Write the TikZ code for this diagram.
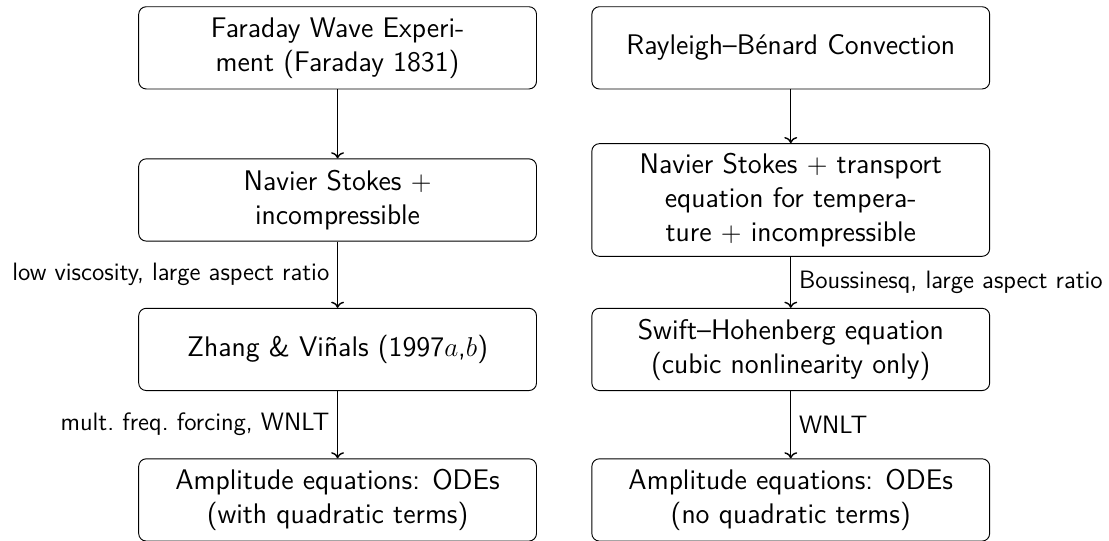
\documentclass[tikz,border=0pt]{standalone}
\usepackage{amsmath,amssymb}
\usepackage{tikz}
\usetikzlibrary{arrows.meta,positioning,calc}
\renewcommand{\familydefault}{\sfdefault}
\newcommand{\Pl}{\ensuremath{+}}

\begin{document}
\begin{tikzpicture}[
    modelbox/.style={draw, rounded corners=4pt, align=center, font=\fontsize{15}{18}\selectfont\sffamily,
      minimum width=7.4cm, minimum height=1.53cm, inner sep=5pt, line width=0.5pt},
    redarrow/.style={->, line width=0.75pt},
    redlabel/.style={font=\fontsize{13.3}{16}\selectfont\sffamily, inner sep=4pt}
  ]
  \useasboundingbox (0,0) rectangle (20.63,-10.06);
  % Faraday column
  \node[modelbox] (fw)  at (6.28,-0.89) {Faraday Wave Experi-\\ment (Faraday 1831)};
  \node[modelbox] (fns) at (6.28,-3.72) {Navier Stokes \Pl\\incompressible};
  \node[modelbox] (zv)  at (6.28,-6.50) {Zhang \& Vi\~nals (1997$a$,$b$)};
  \node[modelbox] (fae) at (6.28,-9.30) {Amplitude equations: ODEs\\(with quadratic terms)};
  % Rayleigh--Benard column
  \node[modelbox] (rb)  at (14.71,-0.89) {Rayleigh--B\'enard Convection};
  \node[modelbox] (rns) at (14.71,-3.72) {Navier Stokes \Pl\ transport\\equation for tempera-\\ture \Pl\ incompressible};
  \node[modelbox] (sh)  at (14.71,-6.50) {Swift--Hohenberg equation\\(cubic nonlinearity only)};
  \node[modelbox] (rae) at (14.71,-9.30) {Amplitude equations: ODEs\\(no quadratic terms)};

  \draw[redarrow] (fw) -- (fns);
  \draw[redarrow] (fns) -- node[redlabel, left] {low viscosity, large aspect ratio} (zv);
  \draw[redarrow] (zv) -- node[redlabel, left] {mult.\ freq.\ forcing, WNLT} (fae);
  \draw[redarrow] (rb) -- (rns);
  \draw[redarrow] (rns) -- node[redlabel, right] {Boussinesq, large aspect ratio} (sh);
  \draw[redarrow] (sh) -- node[redlabel, right] {WNLT} (rae);
\end{tikzpicture}
\end{document}
